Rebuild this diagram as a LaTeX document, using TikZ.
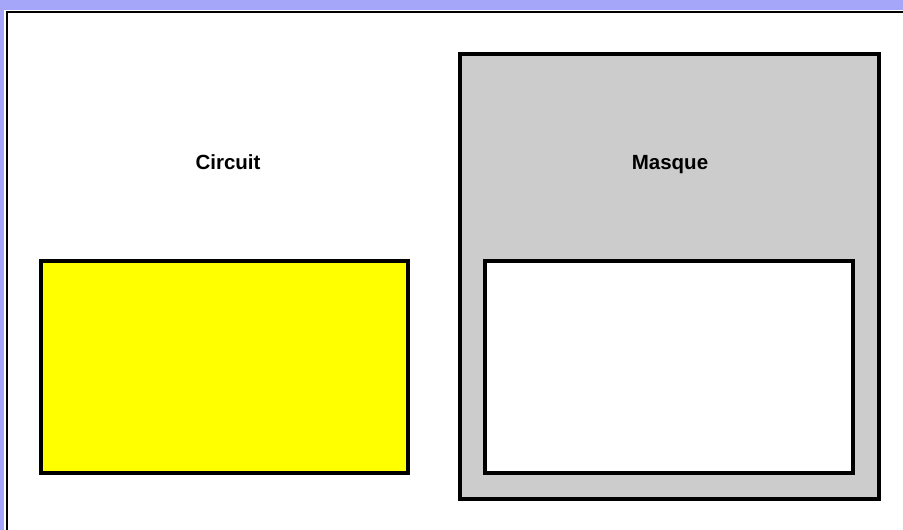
\documentclass[tikz,border=0pt]{standalone}
\usepackage{fontspec}
\setmainfont{Liberation Sans}
\usetikzlibrary{positioning,calc}
\definecolor{Lavender}{HTML}{A5A5FA}
\definecolor{Panel}{HTML}{CCCCCC}
\definecolor{Chip}{HTML}{FFFF00}

\begin{document}
\begin{tikzpicture}[x=1pt,y=-1pt]
        \useasboundingbox (0,0) rectangle (903,530);
        \fill[Lavender] (0,0) rectangle (903,530);
        \fill[white] (4,10) rectangle (903,530);
        \draw[black,line width=2.6pt] (7,530) -- (7,12) -- (903,12);
        \tikzset{box/.style={draw=black,line width=3.3pt,inner sep=0pt,outer sep=0pt},
                 title/.style={anchor=base,font=\fontsize{20.5}{24}\selectfont\bfseries}}
        \node[box,fill=Chip,minimum width=367pt,minimum height=212pt]
              (circuit) at (224.5,367) {};
        \node[box,fill=Panel,minimum width=419pt,minimum height=445pt]
              (masque) at (669.5,276.5) {};
        \node[box,fill=white,minimum width=368pt,minimum height=212pt]
              (window) at (669,367) {};
        \node[title] (circuitlbl) at (228,169.5) {Circuit};
        \node[title] (masquelbl) at (670,169.5) {Masque};
      \end{tikzpicture}
\end{document}
